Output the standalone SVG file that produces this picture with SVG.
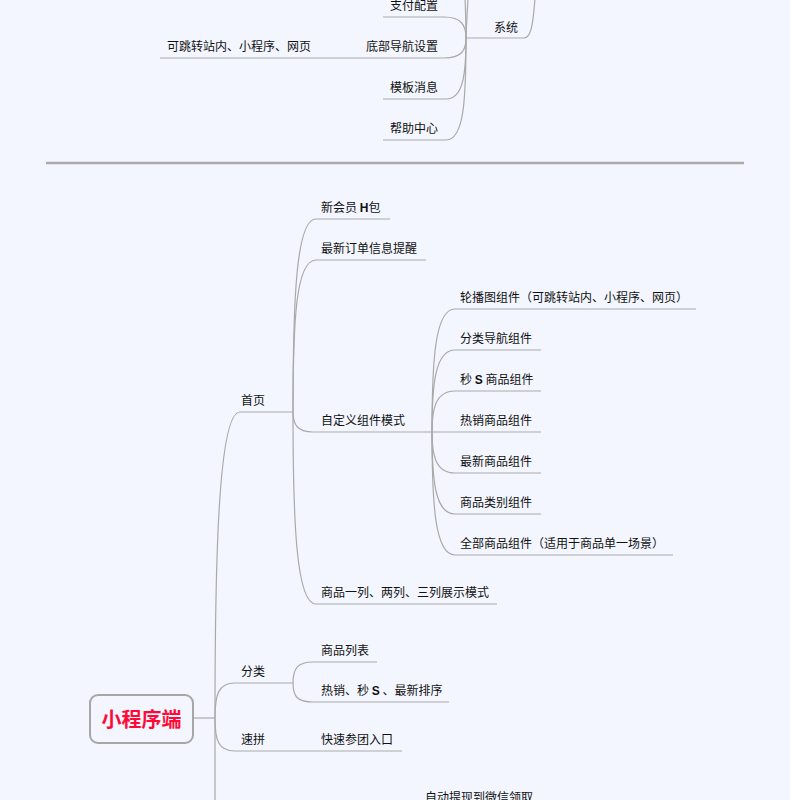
<svg xmlns="http://www.w3.org/2000/svg" width="790" height="800" viewBox="0 0 790 800">
<style>
.bg{fill:#F3F6FE}
.ln{fill:none;stroke:#A9A9A9;stroke-width:1.2}
.sep{stroke:#ABABAB;stroke-width:2.5}
.t{font-family:"Noto Sans CJK SC","Liberation Sans",sans-serif;font-size:12px;fill:#111}
.e{text-anchor:end}
.b{font-family:"Liberation Sans",sans-serif;font-weight:bold}
.root{fill:#F3F6FE;stroke:#A6A6A6;stroke-width:2}
.rt{font-family:"Noto Sans CJK SC","Liberation Sans",sans-serif;font-size:20px;font-weight:bold;fill:#FF0A36;text-anchor:middle}
</style>
<rect class="bg" x="0" y="0" width="790" height="800"/>
<line class="sep" x1="46" y1="163" x2="744" y2="163"/>
<g id="connectors">
<!-- top section -->
<path class="ln" d="M466 38 L524 38 C531 38 533 25 535 -2"/>
<path class="ln" d="M466 38 C466 15 465 0 464 -30"/>
<path class="ln" d="M466 38 C467 10 469 -10 470 -50"/>
<path class="ln" d="M466 38 C466 26 462 17 444 17 L383 17"/>
<path class="ln" d="M466 38 C466 50 462 58 444 58 L383 58"/>
<path class="ln" d="M383 58 L160 58"/>
<path class="ln" d="M466 38 C466 75 463 99 446 99 L383 99"/>
<path class="ln" d="M466 38 C466 100 464 140 446 140 L383 140"/>
<!-- root -->
<path class="ln" d="M193 718 L215 718"/>
<path class="ln" d="M215 718 C215 565 218 412 240 412 L293 412"/>
<path class="ln" d="M215 718 C215 695 218 683 235 683 L293 683"/>
<path class="ln" d="M215 718 C215 740 218 751 235 751 L300 751"/>
<path class="ln" d="M300 751 L402 751"/>
<path class="ln" d="M215 718 L215 820"/>
<!-- 首页 children -->
<path class="ln" d="M293 412 C293 300 296 219 316 219 L390 219"/>
<path class="ln" d="M293 412 C293 320 296 260 316 260 L426 260"/>
<path class="ln" d="M293 412 C293 424 297 432 313 432 L432 432"/>
<path class="ln" d="M293 412 C293 520 296 604 316 604 L497 604"/>
<!-- 自定义组件模式 children -->
<path class="ln" d="M432 432 C432 360 435 309 455 309 L696 309"/>
<path class="ln" d="M432 432 C432 385 435 350 455 350 L541 350"/>
<path class="ln" d="M432 432 C432 410 435 391 455 391 L541 391"/>
<path class="ln" d="M432 432 L541 432"/>
<path class="ln" d="M432 432 C432 454 435 473 455 473 L541 473"/>
<path class="ln" d="M432 432 C432 480 435 514 455 514 L541 514"/>
<path class="ln" d="M432 432 C432 505 435 555 455 555 L673 555"/>
<!-- 分类 children -->
<path class="ln" d="M293 683 C293 668 298 662 313 662 L377 662"/>
<path class="ln" d="M293 683 C293 697 298 702 313 702 L449 702"/>
</g>
<g id="n-xitong"><text class="t" x="494" y="32">系统</text></g>
<g id="n-zhifu"><text class="t e" x="438" y="10">支付配置</text></g>
<g id="n-dibu"><text class="t e" x="438" y="51">底部导航设置</text></g>
<g id="n-dibu-1"><text class="t" x="167" y="51">可跳转站内、小程序、网页</text></g>
<g id="n-muban"><text class="t e" x="438" y="92">模板消息</text></g>
<g id="n-bangzhu"><text class="t e" x="438" y="133">帮助中心</text></g>
<g id="root"><rect class="root" x="90" y="695" width="103" height="48" rx="8"/><text class="rt" x="141.5" y="727">小程序端</text></g>
<g id="n-shouye"><text class="t" x="241" y="405">首页</text></g>
<g id="n-xinhuiyuan"><text class="t" x="321" y="212">新会员 <tspan class="b">H</tspan>包</text></g>
<g id="n-zuixindingdan"><text class="t" x="321" y="253">最新订单信息提醒</text></g>
<g id="n-zidingyi"><text class="t" x="321" y="425">自定义组件模式</text></g>
<g id="n-shangpinlie"><text class="t" x="321" y="597">商品一列、两列、三列展示模式</text></g>
<g id="n-lunbo"><text class="t" x="460" y="302">轮播图组件（可跳转站内、小程序、网页）</text></g>
<g id="n-fenleidaohang"><text class="t" x="460" y="343">分类导航组件</text></g>
<g id="n-miaosha"><text class="t" x="460" y="384">秒 <tspan class="b">S</tspan> 商品组件</text></g>
<g id="n-rexiao"><text class="t" x="460" y="425">热销商品组件</text></g>
<g id="n-zuixin"><text class="t" x="460" y="466">最新商品组件</text></g>
<g id="n-leibie"><text class="t" x="460" y="507">商品类别组件</text></g>
<g id="n-quanbu"><text class="t" x="460" y="548">全部商品组件（适用于商品单一场景）</text></g>
<g id="n-fenlei"><text class="t" x="241" y="676">分类</text></g>
<g id="n-liebiao"><text class="t" x="321" y="655">商品列表</text></g>
<g id="n-paixu"><text class="t" x="321" y="695">热销、秒 <tspan class="b">S</tspan> 、最新排序</text></g>
<g id="n-supin"><text class="t" x="241" y="744">速拼</text></g>
<g id="n-cantuan"><text class="t" x="321" y="744">快速参团入口</text></g>
<g id="n-tixian"><text class="t" x="425" y="802">自动提现到微信领取</text></g>
</svg>
